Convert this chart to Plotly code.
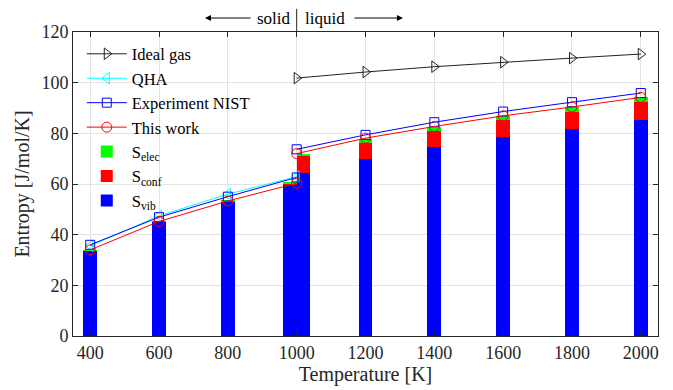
import plotly.graph_objects as go

# ---------------- data ----------------
T_melt = 1000
T_solid = [400, 600, 800, 1000]
T_liquid = [1000, 1200, 1400, 1600, 1800, 2000]

# stacked entropy contributions (J/mol/K)
S_vib_solid = [33.5, 45.0, 53.0, 59.8]
S_conf_solid = [0.0, 0.0, 0.0, 0.2]
S_elec_solid = [0.3, 0.3, 0.3, 0.6]

S_vib_liquid = [64.5, 69.9, 74.5, 78.5, 81.8, 85.1]
S_conf_liquid = [6.4, 6.2, 6.5, 6.8, 6.8, 7.1]
S_elec_liquid = [1.0, 1.6, 1.4, 1.7, 1.8, 2.0]

# curves
ideal_gas_T = [1000, 1200, 1400, 1600, 1800, 2000]
ideal_gas_S = [101.8, 104.2, 106.3, 108.1, 109.7, 111.3]

qha_T = [400, 600, 800, 1000]
qha_S = [35.6, 47.4, 56.0, 62.9]

nist_S_solid = [36.0, 46.9, 55.0, 62.6]
nist_S_liquid = [73.7, 79.4, 84.4, 88.6, 92.3, 95.9]

work_S_solid = [34.0, 45.2, 53.3, 60.3]
work_S_liquid = [72.0, 78.1, 82.7, 86.9, 90.4, 94.2]

x_ticks = [400, 600, 800, 1000, 1200, 1400, 1600, 1800, 2000]
y_ticks = [0, 20, 40, 60, 80, 100, 120]

# ---------------- style ----------------
FONT = "Liberation Serif, Times New Roman, serif"
AX = "#262626"
BAR_W = 40

fig = go.Figure()

# combine solid/liquid for bars with explicit bases (avoid stacking the two 1000 K bars)
T_bars = T_solid + T_liquid
vib = S_vib_solid + S_vib_liquid
conf = S_conf_solid + S_conf_liquid
elec = S_elec_solid + S_elec_liquid
offsets = []
for i, t in enumerate(T_bars):
    is_solid = i < len(T_solid)
    if t == T_melt:
        offsets.append(-BAR_W if is_solid else 0)
    else:
        offsets.append(-BAR_W / 2)
base_conf = vib
base_elec = [v + c for v, c in zip(vib, conf)]


def gap(a, b):
    return a + [None] + b


# line traces (legend order)
fig.add_trace(go.Scatter(
    x=ideal_gas_T, y=ideal_gas_S, name="Ideal gas", mode="lines+markers",
    line=dict(color="#222222", width=1),
    marker=dict(symbol="triangle-right-open", size=10, color="#222222", line=dict(width=1)),
))
fig.add_trace(go.Scatter(
    x=qha_T, y=qha_S, name="QHA", mode="lines+markers",
    line=dict(color="#00ffff", width=1),
    marker=dict(symbol="triangle-left-open", size=10, color="#00ffff", line=dict(width=1)),
))
fig.add_trace(go.Scatter(
    x=gap(T_solid, T_liquid), y=gap(nist_S_solid, nist_S_liquid),
    name="Experiment NIST", mode="lines+markers", connectgaps=False,
    line=dict(color="#0000ff", width=1),
    marker=dict(symbol="square-open", size=9, color="#0000ff", line=dict(width=1)),
))
fig.add_trace(go.Scatter(
    x=gap(T_solid, T_liquid), y=gap(work_S_solid, work_S_liquid),
    name="This work", mode="lines+markers", connectgaps=False,
    line=dict(color="#ff0000", width=1),
    marker=dict(symbol="circle-open", size=10, color="#ff0000", line=dict(width=1)),
))

# bars
fig.add_trace(go.Bar(
    x=T_bars, y=elec, base=base_elec, width=BAR_W, offset=offsets,
    name="S<sub>elec</sub>", marker=dict(color="#00ff00", line=dict(width=0)),
))
fig.add_trace(go.Bar(
    x=T_bars, y=conf, base=base_conf, width=BAR_W, offset=offsets,
    name="S<sub>conf</sub>", marker=dict(color="#ff0000", line=dict(width=0)),
))
fig.add_trace(go.Bar(
    x=T_bars, y=vib, base=[0] * len(vib), width=BAR_W, offset=offsets,
    name="S<sub>vib</sub>", marker=dict(color="#0000ff", line=dict(width=0)),
))

axis_common = dict(
    showline=True, linecolor=AX, linewidth=1, mirror="ticks",
    ticks="inside", ticklen=5, tickcolor=AX, tickwidth=1,
    showgrid=True, gridcolor="#e3e3e3", gridwidth=1, zeroline=False,
    tickfont=dict(family=FONT, size=18, color=AX),
)

fig.update_layout(
    width=673, height=390,
    margin=dict(l=73, r=15, t=32, b=54),
    paper_bgcolor="white", plot_bgcolor="white",
    barmode="overlay", bargap=0,
    font=dict(family=FONT, color=AX),
    xaxis=dict(
        range=[350, 2050], tickvals=x_ticks, ticktext=[str(v) for v in x_ticks],
        title=dict(text="Temperature [K]", font=dict(family=FONT, size=20, color=AX), standoff=2),
        **axis_common,
    ),
    yaxis=dict(
        range=[0, 120], tickvals=y_ticks,
        title=dict(text="Entropy [J/mol/K]", font=dict(family=FONT, size=20, color=AX), standoff=6),
        **axis_common,
    ),
    legend=dict(
        x=0.015, y=0.985, xanchor="left", yanchor="top",
        bgcolor="rgba(255,255,255,0)", borderwidth=0,
        font=dict(family=FONT, size=16.5, color="#000000"),
        traceorder="normal", itemwidth=40, tracegroupgap=0,
    ),
    showlegend=True,
)

# phase annotation above the plot
fig.add_shape(type="line", xref="x", yref="paper", x0=T_melt, x1=T_melt, y0=1.0, y1=1.076,
              line=dict(color=AX, width=1))
fig.add_annotation(x=T_melt, y=1.046, xref="x", yref="paper", text="solid", showarrow=False,
                   xanchor="right", yanchor="middle", xshift=-4,
                   font=dict(family=FONT, size=17, color="#000"))
fig.add_annotation(x=T_melt, y=1.046, xref="x", yref="paper", text="liquid", showarrow=False,
                   xanchor="left", yanchor="middle", xshift=6,
                   font=dict(family=FONT, size=17, color="#000"))
fig.add_annotation(x=0.2256, y=1.046, xref="paper", yref="paper", ax=47, ay=0, text="",
                   showarrow=True, arrowhead=2, arrowsize=1.2, arrowwidth=1, arrowcolor="#000")
fig.add_annotation(x=0.564, y=1.046, xref="paper", yref="paper", ax=-50, ay=0, text="",
                   showarrow=True, arrowhead=2, arrowsize=1.2, arrowwidth=1, arrowcolor="#000")

fig.write_html("out.html", config={"displayModeBar": False},
               post_script="document.body.style.margin='0px';")
